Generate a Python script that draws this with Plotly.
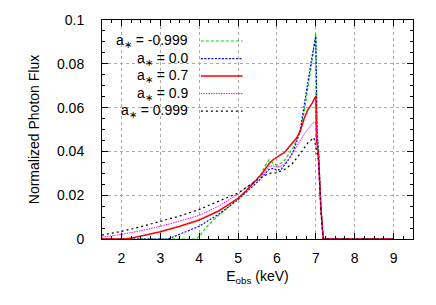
import plotly.graph_objects as go

# ---- data ----
labels = ["a<sub>∗</sub> = -0.999", "a<sub>∗</sub> = 0.0", "a<sub>∗</sub> = 0.7",
          "a<sub>∗</sub> = 0.9", "a<sub>∗</sub> = 0.999"]

e_m0999 = [1.5, 3.92, 4.0, 4.2, 4.4, 4.6, 4.8, 5.0, 5.2, 5.4, 5.6, 5.7, 5.8, 5.9, 6.0, 6.1,
           6.2, 6.3, 6.4, 6.5, 6.6, 6.7, 6.8, 6.9, 7.0, 7.03, 7.07, 7.13, 7.2, 9.0]
f_m0999 = [0, 0, 0.0012, 0.0057, 0.0093, 0.0122, 0.0152, 0.0186, 0.0222, 0.0258, 0.0300,
           0.0335, 0.0362, 0.0346, 0.0338, 0.0345, 0.0360, 0.0385, 0.0412, 0.0452, 0.0500,
           0.0580, 0.0690, 0.0810, 0.0938, 0.052, 0.040, 0.016, 0, 0]

e_0 = [1.5, 3.2, 3.5, 4.0, 4.5, 5.0, 5.2, 5.4, 5.6, 5.7, 5.8, 5.9, 6.0, 6.1, 6.2, 6.3, 6.4,
       6.5, 6.6, 6.7, 6.8, 6.9, 7.0, 7.03, 7.07, 7.13, 7.19, 9.0]
f_0 = [0, 0, 0.0022, 0.0058, 0.0113, 0.0180, 0.0212, 0.0245, 0.0278, 0.0300, 0.0318, 0.0322,
       0.0315, 0.0316, 0.0338, 0.0362, 0.0392, 0.0440, 0.0498, 0.0600, 0.0720, 0.0830, 0.0925,
       0.050, 0.039, 0.015, 0, 0]

e_07 = [1.5, 2.1, 2.3, 2.5, 3.0, 3.5, 4.0, 4.5, 5.0, 5.2, 5.4, 5.6, 5.7, 5.8, 5.9, 6.0, 6.1,
        6.2, 6.3, 6.4, 6.5, 6.6, 6.7, 6.8, 6.9, 7.0, 7.02, 7.07, 7.13, 7.19, 9.0]
f_07 = [0, 0, 0.0006, 0.0013, 0.0033, 0.0058, 0.0087, 0.0128, 0.0186, 0.0218, 0.0255, 0.0295,
        0.0320, 0.0345, 0.0362, 0.0375, 0.0385, 0.0396, 0.0418, 0.0436, 0.0460, 0.0492, 0.0550,
        0.0592, 0.0618, 0.0653, 0.045, 0.038, 0.014, 0, 0]

e_09 = [1.5, 2.0, 2.5, 3.0, 3.5, 4.0, 4.5, 5.0, 5.2, 5.4, 5.6, 5.7, 5.8, 5.9, 6.0, 6.1, 6.2,
        6.3, 6.4, 6.5, 6.6, 6.7, 6.8, 6.9, 7.0, 7.03, 7.07, 7.13, 7.19, 9.0]
f_09 = [0.0008, 0.0021, 0.0038, 0.0058, 0.0082, 0.0108, 0.0150, 0.0205, 0.0234, 0.0262, 0.0288,
        0.0310, 0.0332, 0.0334, 0.0330, 0.0332, 0.0346, 0.0365, 0.0390, 0.0420, 0.0450, 0.0480,
        0.0502, 0.0525, 0.0539, 0.044, 0.037, 0.014, 0, 0]

e_0999 = [1.5, 2.0, 2.5, 3.0, 3.5, 4.0, 4.5, 5.0, 5.2, 5.4, 5.6, 5.8, 6.0, 6.2, 6.4, 6.6, 6.8,
          6.95, 7.03, 7.07, 7.13, 7.19, 9.0]
f_0999 = [0.0018, 0.0035, 0.0056, 0.0079, 0.0105, 0.0135, 0.0172, 0.0210, 0.0234, 0.0258, 0.0282,
          0.0300, 0.0302, 0.0318, 0.0345, 0.0390, 0.0440, 0.0463, 0.040, 0.036, 0.013, 0, 0]

x_ticks = [2, 3, 4, 5, 6, 7, 8, 9]
y_ticks = [0, 0.02, 0.04, 0.06, 0.08, 0.1]
y_tick_text = ["0", "0.02", "0.04", "0.06", "0.08", "0.1"]

# ---- styles ----
series = [
    (e_m0999, f_m0999, "#00dd00", "3px,2px", 1.2),
    (e_0, f_0, "#0000ff", "2px,1.5px", 1.2),
    (e_07, f_07, "#ff0000", "solid", 1.5),
    (e_09, f_09, "#ff00ff", "1.5px,1px", 1.0),
    (e_0999, f_0999, "#000000", "2px,3px", 1.2),
]

FONT = "Liberation Sans, Arial, Helvetica, sans-serif"
fig = go.Figure()
for (x, y, c, d, w), name in zip(series, labels):
    fig.add_trace(go.Scatter(x=x, y=y, mode="lines", name=name,
                             line=dict(color=c, dash=d, width=w), showlegend=False))

# Custom legend (text right-aligned, sample on the right like gnuplot)
row_y = [0.904, 0.824, 0.744, 0.664, 0.584]
for (x, y, c, d, w), name, ry in zip(series, labels, row_y):
    fig.add_annotation(x=0.283, y=ry, xref="paper", yref="paper", text=name,
                       showarrow=False, xanchor="right", yanchor="middle",
                       font=dict(size=14, color="black", family=FONT))
    fig.add_shape(type="line", xref="paper", yref="paper", x0=0.318, x1=0.452,
                  y0=ry, y1=ry, line=dict(color=c, dash=d, width=w))

axis_common = dict(showline=True, linecolor="black", linewidth=1, mirror="ticks",
                   ticks="inside", ticklen=6, tickcolor="black", automargin=False,
                   showgrid=True, gridcolor="#aaaaaa", griddash="dot", gridwidth=1,
                   zeroline=False, tickfont=dict(size=14, color="black", family=FONT))

fig.update_xaxes(range=[1.5, 9.5], tickvals=x_ticks, ticklabelstandoff=6,
                 minor=dict(ticks="inside", ticklen=3, dtick=0.25, tickcolor="black", showgrid=False),
                 title=dict(text="E<sub>obs</sub> (keV)", font=dict(size=14, family=FONT, color="black"),
                            standoff=6),
                 **axis_common)
fig.update_yaxes(range=[0, 0.1], tickvals=y_ticks, ticktext=y_tick_text, ticklabelstandoff=14,
                 minor=dict(ticks="inside", ticklen=3, dtick=0.005, tickcolor="black", showgrid=False),
                 title=dict(text="Normalized Photon Flux", font=dict(size=14, family=FONT, color="black"),
                            standoff=14),
                 **axis_common)

fig.update_layout(width=436, height=305, margin=dict(l=102, r=23, t=20, b=66),
                  plot_bgcolor="white", paper_bgcolor="white", hovermode=False,
                  font=dict(family=FONT, size=14, color="black"))

fig.write_html("out.html", config={"displayModeBar": False, "staticPlot": True},
               post_script="document.body.style.margin='0px';document.body.style.overflow='hidden';")
